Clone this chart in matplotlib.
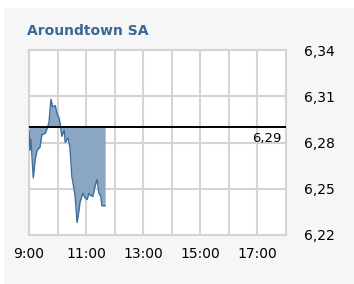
#!/usr/bin/env python3
import matplotlib
matplotlib.use("Agg")
import numpy as np
from matplotlib import pyplot as plt
from matplotlib.patches import Rectangle

title = "Aroundtown SA"
prev_close = 6.29

times = ["9:00", "9:02", "9:04", "9:09", "9:13", "9:17", "9:23", "9:27", "9:34",
         "9:38", "9:42", "9:46", "9:50", "9:55", "9:59", "10:03", "10:05", "10:09",
         "10:14", "10:16", "10:22", "10:26", "10:30", "10:35", "10:37", "10:41",
         "10:45", "10:47", "10:51", "10:53", "10:58", "11:02", "11:06", "11:08",
         "11:14", "11:19", "11:23", "11:27", "11:31", "11:33", "11:40"]
prices = [6.288, 6.275, 6.282, 6.257, 6.269, 6.275, 6.277, 6.285, 6.286,
          6.289, 6.293, 6.308, 6.303, 6.304, 6.299, 6.296, 6.293, 6.284,
          6.288, 6.280, 6.283, 6.277, 6.258, 6.249, 6.245, 6.228,
          6.236, 6.241, 6.245, 6.247, 6.244, 6.243, 6.247, 6.246,
          6.245, 6.252, 6.256, 6.247, 6.245, 6.239, 6.239]

y_ticks = [6.22, 6.25, 6.28, 6.31, 6.34]
x_labels = ["9:00", "11:00", "13:00", "15:00", "17:00"]


def to_hours(t):
    h, m = t.split(":")
    return int(h) + int(m) / 60.0


x = np.array([to_hours(t) for t in times])
y = np.array(prices)

fig = plt.figure(figsize=(3.54, 2.84), dpi=100)
fig.patch.set_facecolor("#f6f6f6")
# white margin strips at the left and top edge
fig.add_artist(Rectangle((0, 0), 4 / 354, 1, transform=fig.transFigure,
                         facecolor="white", edgecolor="none", zorder=-5))
fig.add_artist(Rectangle((0, 1 - 8 / 284), 1, 8 / 284, transform=fig.transFigure,
                         facecolor="white", edgecolor="none", zorder=-5))

ax = fig.add_axes([29 / 354, 1 - 235 / 284, 257 / 354, 185 / 284])
ax.set_facecolor("white")
ax.set_xlim(9, 18)
ax.set_ylim(6.22, 6.34)

ax.fill_between(x, y, prev_close, color="#8aa6c3", linewidth=0, zorder=2)
ax.plot(x, y, color="#3f6e9c", linewidth=1.0, zorder=3)
ax.axhline(prev_close, color="black", linewidth=1.4, zorder=4)
ax.text(17.85, prev_close - 0.0035, "6,29", ha="right", va="top", fontsize=9.5, zorder=5)

ax.set_xticks(range(9, 19))
ax.set_xticklabels([t if t in x_labels else "" for t in [f"{h}:00" for h in range(9, 19)]])
ax.set_yticks(y_ticks)
ax.set_yticklabels([f"{v:.2f}".replace(".", ",") for v in y_ticks])
ax.yaxis.tick_right()
ax.tick_params(length=0, labelsize=10, pad=9)
ax.tick_params(axis="y", pad=13)
ax.grid(True, color="#d4d4d4", linewidth=1.5)
ax.set_axisbelow(True)
for s in ax.spines.values():
    s.set_color("#d4d4d4")
    s.set_linewidth(1.5)

fig.text(27 / 354, 1 - 31 / 284, title, color="#3b6796", fontsize=10,
         fontweight="bold", ha="left", va="center")

fig.savefig("out.png", dpi=100, facecolor=fig.get_facecolor())
